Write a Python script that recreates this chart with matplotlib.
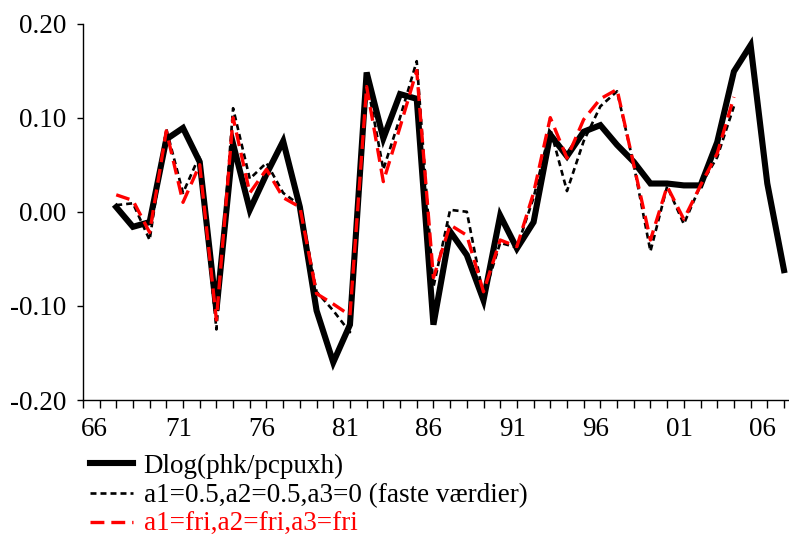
import numpy as np
import matplotlib.pyplot as plt

plt.rcParams['font.family'] = ['Liberation Serif', 'DejaVu Serif']
plt.rcParams['lines.scale_dashes'] = False

# years (tick at start of each year)
years = np.arange(1968, 2009)
years_fit = np.arange(1968, 2006)

# Dlog(phk/pcpuxh)
actual = [0.005, -0.016, -0.011, 0.077, 0.089, 0.053, -0.105, 0.072, 0.002, 0.040,
          0.075, 0.005, -0.105, -0.160, -0.120, 0.148, 0.078, 0.125, 0.120, -0.120,
          -0.021, -0.046, -0.094, -0.004, -0.039, -0.011, 0.082, 0.059, 0.085, 0.092,
          0.071, 0.053, 0.030, 0.030, 0.028, 0.028, 0.074, 0.149, 0.177, 0.030,
          -0.062]

# a1=0.5,a2=0.5,a3=0 (faste vaerdier)
fixed = [0.007, 0.009, -0.030, 0.088, 0.020, 0.060, -0.125, 0.110, 0.035, 0.052,
         0.020, 0.007, -0.085, -0.105, -0.128, 0.140, 0.045, 0.100, 0.160, -0.080,
         0.002, 0.000, -0.090, -0.033, -0.038, 0.015, 0.088, 0.022, 0.075, 0.112,
         0.128, 0.050, -0.042, 0.027, -0.013, 0.028, 0.058, 0.112]

# a1=fri,a2=fri,a3=fri
free = [0.018, 0.012, -0.022, 0.086, 0.010, 0.050, -0.115, 0.100, 0.020, 0.045,
        0.015, 0.005, -0.087, -0.098, -0.110, 0.133, 0.032, 0.090, 0.150, -0.070,
        -0.014, -0.025, -0.085, -0.030, -0.037, 0.020, 0.100, 0.057, 0.098, 0.120,
        0.130, 0.050, -0.030, 0.027, -0.008, 0.028, 0.062, 0.122]

label_years = [1966, 1971, 1976, 1981, 1986, 1991, 1996, 2001, 2006]
label_text = ['66', '71', '76', '81', '86', '91', '96', '01', '06']

fig = plt.figure(figsize=(7.89, 5.38), dpi=100)
ax = fig.add_axes([0.105, 0.2565, 0.895, 0.6998])

l1, = ax.plot(years, actual, color='black', lw=4.4, solid_joinstyle='miter',
              label='Dlog(phk/pcpuxh)')
l2, = ax.plot(years_fit, fixed, color='black', lw=1.9, linestyle=(0, (4.3, 2.9)),
              label='a1=0.5,a2=0.5,a3=0 (faste værdier)')
l3, = ax.plot(years_fit, free, color='red', lw=2.4, linestyle=(0, (10, 5)),
              label='a1=fri,a2=fri,a3=fri')

ax.set_xlim(1966, 2008.3)
ax.set_ylim(-0.20, 0.20)
ax.set_yticks([-0.20, -0.10, 0.00, 0.10, 0.20])
ax.set_yticklabels(['-0.20', '-0.10', '0.00', '0.10', '0.20'])

# year ticks without labels, labels centred in the year interval
ax.set_xticks(np.arange(1966, 2009), minor=True)
ax.set_xticks([y + 0.72 for y in label_years])
ax.set_xticklabels(label_text)
ax.tick_params(axis='x', which='major', length=0, pad=12, labelsize=19.5)
ax.tick_params(axis='x', which='minor', length=5.5, width=1, direction='out')
ax.tick_params(axis='y', length=4.3, width=1, pad=7.5, labelsize=19.5)

ax.spines['top'].set_visible(False)
ax.spines['right'].set_visible(False)
ax.spines['left'].set_linewidth(1)
ax.spines['bottom'].set_linewidth(1)

leg = fig.legend(handles=[l1, l2, l3], loc='upper left',
                 bbox_to_anchor=(0.114, 0.157), frameon=False, fontsize=19.5,
                 handlelength=1.6, handletextpad=0.38, labelspacing=0.16,
                 borderaxespad=0, borderpad=0)
leg.get_texts()[2].set_color('red')

fig.savefig('out.png', dpi=100)
